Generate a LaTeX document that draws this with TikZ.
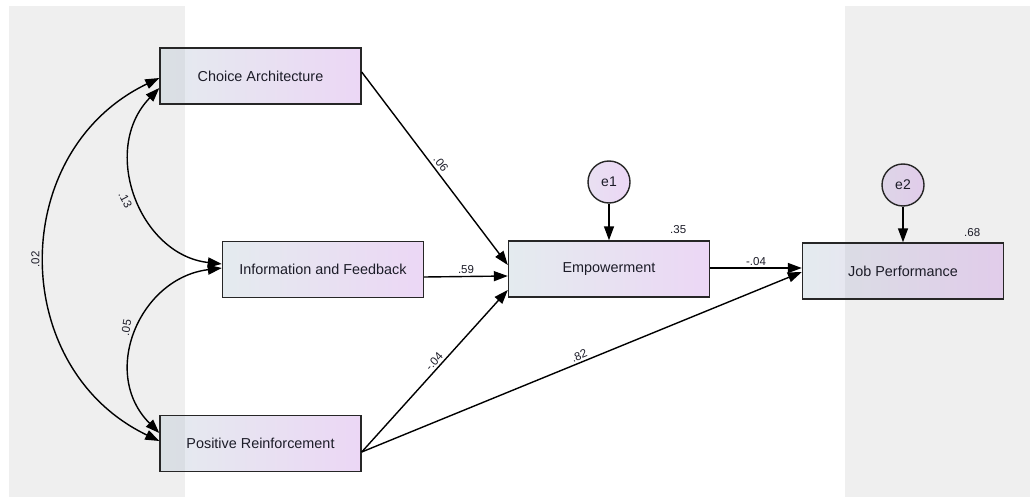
\documentclass[tikz,border=0pt]{standalone}
\usepackage{fontspec}
\setmainfont{Liberation Sans}
\usetikzlibrary{arrows.meta}

\definecolor{panelgray}{RGB}{239,239,239}
\definecolor{boxleft}{RGB}{178,198,208}
\definecolor{boxright}{RGB}{200,140,226}
\definecolor{edgegray}{RGB}{38,38,38}
\definecolor{textdark}{RGB}{28,28,40}

\begin{document}
\begin{tikzpicture}[x=1pt,y=-1pt,
  var/.style={draw=edgegray, line width=1.4pt,
    left color=boxleft, right color=boxright,
    fill opacity=0.35, text opacity=1,
    minimum width=201pt, minimum height=56pt, inner sep=0pt,
    font=\fontsize{14.4}{17}\selectfont, text=textdark},
  err/.style={circle, draw=edgegray, line width=1.4pt,
    left color=boxright!55!boxleft, right color=boxright,
    fill opacity=0.35, text opacity=1,
    minimum size=42pt, inner sep=0pt,
    font=\fontsize{14}{16}\selectfont, text=textdark},
  tip/.tip={Triangle[length=14pt,width=10pt]},
  regpath/.style={line width=1.4pt, draw=black, -tip},
  covpath/.style={line width=1.4pt, draw=black, tip-tip},
  lbl/.style={font=\fontsize{11.5}{13}\selectfont, text=textdark, inner sep=1pt},
]
\useasboundingbox (0,0) rectangle (1030,497);

% grey side panels
\fill[panelgray] (9,6) rectangle (185,497);
\fill[panelgray] (845,6) rectangle (1030,497);

% observed variables
\node[var] (CA)  at (260.5,76)  {Choice Architecture};
\node[var] (IF)  at (323,269.5) {Information and Feedback};
\node[var] (PR)  at (260.5,443.5) {Positive Reinforcement};
\node[var] (Emp) at (609,269)   {Empowerment};
\node[var] (JP)  at (903,271)   {Job Performance};

% error terms
\node[err] (e1) at (609,182) {e1};
\node[err] (e2) at (903,185) {e2};

% squared multiple correlations
\node[lbl] (r1) at ([xshift=-32pt,yshift=11pt]Emp.north east) {.35};
\node[lbl] (r2) at ([xshift=-32pt,yshift=10pt]JP.north east) {.68};

% regression paths
\draw[regpath] ([yshift=4pt]CA.east) -- node[lbl, sloped, above=2pt, pos=0.5] {.06} ([yshift=4pt]Emp.west);
\draw[regpath] ([yshift=-7.5pt]IF.east) -- node[lbl, above=1pt, pos=0.5] {.59} ([yshift=-7pt]Emp.west);
\draw[regpath] ([yshift=-8.5pt]PR.east) -- node[lbl, sloped, above=1pt, pos=0.53] {-.04} ([yshift=-21pt]Emp.west);
\draw[regpath] ([yshift=-8.5pt]PR.east) -- node[lbl, sloped, above=1pt, pos=0.5] {.82} ([yshift=-1pt]JP.west);
\draw[regpath] ([yshift=1pt]Emp.east) -- node[lbl, above=1pt, pos=0.5] {-.04} ([yshift=3pt]JP.west);
\draw[regpath] (e1) -- (Emp);
\draw[regpath] (e2) -- (JP);

% covariances
\draw[covpath] ([yshift=-2pt]CA.west) .. controls +(-152,73) and +(-152,-73) .. ([yshift=2.5pt]PR.west)
  node[lbl, pos=0.5, xshift=-10pt, rotate=90] {.02};
\draw[covpath] ([yshift=-12pt]CA.west) .. controls +(-60,62) and +(-82,-9) .. ([yshift=5.5pt]IF.west)
  node[lbl, pos=0.5, xshift=-12pt, yshift=-4pt, rotate=-62] {.13};
\draw[covpath] ([yshift=1.5pt]IF.west) .. controls +(-82,10) and +(-60,-60) .. ([yshift=10.5pt]PR.west)
  node[lbl, pos=0.5, xshift=-11pt, yshift=4pt, rotate=80] {.05};
\end{tikzpicture}
\end{document}
